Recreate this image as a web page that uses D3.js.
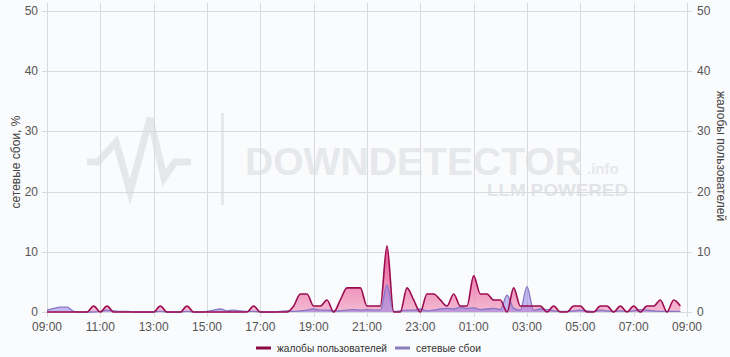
<!DOCTYPE html>
<html>
<head>
<meta charset="utf-8">
<script src="https://cdn.jsdelivr.net/npm/d3@7"></script>
<style>
  body { margin: 0; background: #fafbfc; }
  text { font-family: "Liberation Sans", Arial, sans-serif; }
</style>
</head>
<body>
<script>
// 15-minute samples starting at 09:00
const startTime = new Date(2024, 4, 10, 9, 0);
const stepMinutes = 15;

// complaints (right axis)
const complaints = [
  0, 0, 0, 0, 0, 0, 0, 1, 0, 1, 0, 0,
  0, 0, 0, 0, 0, 1, 0, 0, 0, 1, 0, 0,
  0, 0, 0, 0, 0, 0, 0, 1, 0, 0, 0, 0,
  0, 1, 3, 3, 1, 1, 2, 0, 2, 4, 4, 4,
  1, 1, 1, 11, 0, 0, 4, 2, 0, 3, 3, 2,
  1, 3, 1, 1, 6, 3, 3, 2, 2, 0, 4, 1,
  1, 1, 1, 0, 1, 0, 0, 1, 1, 0, 0, 1,
  1, 0, 1, 0, 1, 0, 1, 1, 2, 0, 2, 1
];

// network failures, % (left axis)
const failures = [
  0.3, 0.6, 0.8, 0.8, 0.1, 0, 0, 0, 0.1, 0.3, 0.2, 0.1,
  0.1, 0, 0, 0, 0, 0.1, 0, 0, 0, 0.1, 0, 0,
  0.1, 0.3, 0.5, 0.2, 0.3, 0.2, 0.1, 0.1, 0, 0, 0, 0.1,
  0.2, 0.1, 0.2, 0.3, 0.5, 0.3, 0.3, 0.2, 0.2, 0.3, 0.4, 0.3,
  0.4, 0.3, 0.3, 4.5, 0.1, 0.2, 0.3, 0.3, 0.5, 0.2, 0.3, 0.5,
  0.6, 0.5, 0.8, 0.6, 0.7, 0.4, 0.5, 0.6, 0.4, 2.8, 0.6, 0.3,
  4.2, 0.3, 0.5, 0.4, 0.2, 0.1, 0.1, 0.2, 0.3, 0.2, 0.1, 0.3,
  0.2, 0.1, 0.2, 0.1, 0.2, 0.4, 0.3, 0.2, 0.1, 0.1, 0.1, 0.1
];

const yTicks = [0, 10, 20, 30, 40, 50];
const seriesNames = ['жалобы пользователей', 'сетевые сбои'];
const leftTitle = 'сетевые сбои, %';
const rightTitle = 'жалобы пользователей';

const width = 730, height = 357;
const margin = {top: 11, right: 43, bottom: 45, left: 47};
const graphWidth = width - margin.left - margin.right;
const graphHeight = height - margin.top - margin.bottom;

const svg = d3.select('body')
  .append('svg')
  .attr('width', width)
  .attr('height', height);

const times = complaints.map((d, i) => d3.timeMinute.offset(startTime, i * stepMinutes));
const data = times.map((t, i) => ({t, c: complaints[i], f: failures[i]}));

const endTime = d3.timeHour.offset(startTime, 24);
const x = d3.scaleTime()
  .domain([startTime, endTime])
  .range([0, graphWidth]);
const yLeft = d3.scaleLinear().domain([0, 50]).range([graphHeight, 0]);
const yRight = d3.scaleLinear().domain([0, 50]).range([graphHeight, 0]);

// every 2 hours from 09:00 to 09:00 next day
const xTicks = d3.timeHour.range(startTime, d3.timeMinute.offset(endTime, 1), 2);

// watermark
const wm = svg.append('g').attr('fill', '#e6e8eb');
wm.append('polyline')
  .attr('points', '87,162 98,162 116,142 130,192 150,118 164,178 175,162 191,162')
  .attr('fill', 'none')
  .attr('stroke', '#e5e7ea')
  .attr('stroke-width', 7)
  .attr('stroke-linejoin', 'miter');
wm.append('rect').attr('x', 221).attr('y', 113).attr('width', 3).attr('height', 92);
wm.append('text').attr('x', 245).attr('y', 175)
  .attr('font-size', 39).attr('font-weight', 'bold')
  .attr('textLength', 338).attr('lengthAdjust', 'spacingAndGlyphs')
  .text('DOWNDETECTOR');
wm.append('text').attr('x', 587).attr('y', 174)
  .attr('font-size', 15).attr('font-weight', 'bold')
  .text('.info');
wm.append('text').attr('x', 487).attr('y', 196)
  .attr('font-size', 17).attr('font-weight', 'bold').attr('fill', '#e2e4e8')
  .attr('textLength', 141).attr('lengthAdjust', 'spacingAndGlyphs')
  .text('LLM POWERED');

const graph = svg.append('g')
  .attr('transform', `translate(${margin.left},${margin.top})`);

// grid
const grid = graph.append('g').attr('stroke', '#d9dadc').attr('stroke-width', 1);
grid.selectAll('line.h')
  .data(yTicks)
  .enter().append('line')
    .attr('x1', -5).attr('x2', graphWidth + 5)
    .attr('y1', d => Math.round(yLeft(d)) + 0.5)
    .attr('y2', d => Math.round(yLeft(d)) + 0.5);
grid.selectAll('line.v')
  .data(xTicks)
  .enter().append('line')
    .attr('x1', d => Math.round(x(d)) + 0.5)
    .attr('x2', d => Math.round(x(d)) + 0.5)
    .attr('y1', -8).attr('y2', graphHeight + 5);

// gradient for complaints
const defs = svg.append('defs');
const grad = defs.append('linearGradient')
  .attr('id', 'cgrad')
  .attr('gradientUnits', 'userSpaceOnUse')
  .attr('x1', 0).attr('x2', 0)
  .attr('y1', yRight(11)).attr('y2', yRight(0));
grad.append('stop').attr('offset', 0).attr('stop-color', '#e2357f').attr('stop-opacity', 0.85);
grad.append('stop').attr('offset', 1).attr('stop-color', '#f2a2c4').attr('stop-opacity', 0.75);

const curve = d3.curveMonotoneX;

const areaC = d3.area().curve(curve)
  .x(d => x(d.t)).y0(graphHeight).y1(d => yRight(d.c));
const lineC = d3.line().curve(curve)
  .x(d => x(d.t)).y(d => yRight(d.c));
const areaF = d3.area().curve(curve)
  .x(d => x(d.t)).y0(graphHeight).y1(d => yLeft(d.f));
const lineF = d3.line().curve(curve)
  .x(d => x(d.t)).y(d => yLeft(d.f));

graph.append('path').datum(data)
  .attr('d', areaC)
  .attr('fill', 'url(#cgrad)');
graph.append('path').datum(data)
  .attr('d', areaF)
  .attr('fill', 'rgba(140,120,225,0.5)');
graph.append('path').datum(data)
  .attr('d', lineF)
  .attr('fill', 'none')
  .attr('stroke', '#8677c6')
  .attr('stroke-width', 1.3);
graph.append('path').datum(data)
  .attr('d', lineC)
  .attr('fill', 'none')
  .attr('stroke', '#9a0b4f')
  .attr('stroke-width', 1.6);

// axes labels
const fmt = d3.timeFormat('%H:%M');
graph.append('g').selectAll('text')
  .data(xTicks)
  .enter().append('text')
    .attr('x', d => x(d))
    .attr('y', graphHeight + 19)
    .attr('text-anchor', 'middle')
    .attr('font-size', 12)
    .attr('fill', '#555')
    .text(d => fmt(d));

graph.append('g').selectAll('text')
  .data(yTicks)
  .enter().append('text')
    .attr('x', -9)
    .attr('y', d => yLeft(d) + 4)
    .attr('text-anchor', 'end')
    .attr('font-size', 12)
    .attr('fill', '#555')
    .text(d => d);

graph.append('g').selectAll('text')
  .data(yTicks)
  .enter().append('text')
    .attr('x', graphWidth + 10)
    .attr('y', d => yRight(d) + 4)
    .attr('text-anchor', 'start')
    .attr('font-size', 12)
    .attr('fill', '#555')
    .text(d => d);

svg.append('text')
  .attr('transform', 'translate(20,162) rotate(-90)')
  .attr('text-anchor', 'middle')
  .attr('font-size', 12)
  .attr('fill', '#444')
  .text(leftTitle);

svg.append('text')
  .attr('transform', 'translate(717,156) rotate(90)')
  .attr('text-anchor', 'middle')
  .attr('font-size', 12)
  .attr('fill', '#444')
  .text(rightTitle);

// legend
const legendColors = ['#8b0a47', '#8a7fbd'];
const legendX = [256, 395];
const legendLen = [110, 65];
const legend = svg.append('g');
seriesNames.forEach((name, i) => {
  legend.append('line')
    .attr('x1', legendX[i]).attr('x2', legendX[i] + 15)
    .attr('y1', 348).attr('y2', 348)
    .attr('stroke', legendColors[i])
    .attr('stroke-width', 3);
  legend.append('text')
    .attr('x', legendX[i] + 21)
    .attr('y', 352)
    .attr('font-size', 11.5)
    .attr('fill', '#333')
    .attr('textLength', legendLen[i])
    .attr('lengthAdjust', 'spacingAndGlyphs')
    .text(name);
});
</script>
</body>
</html>
